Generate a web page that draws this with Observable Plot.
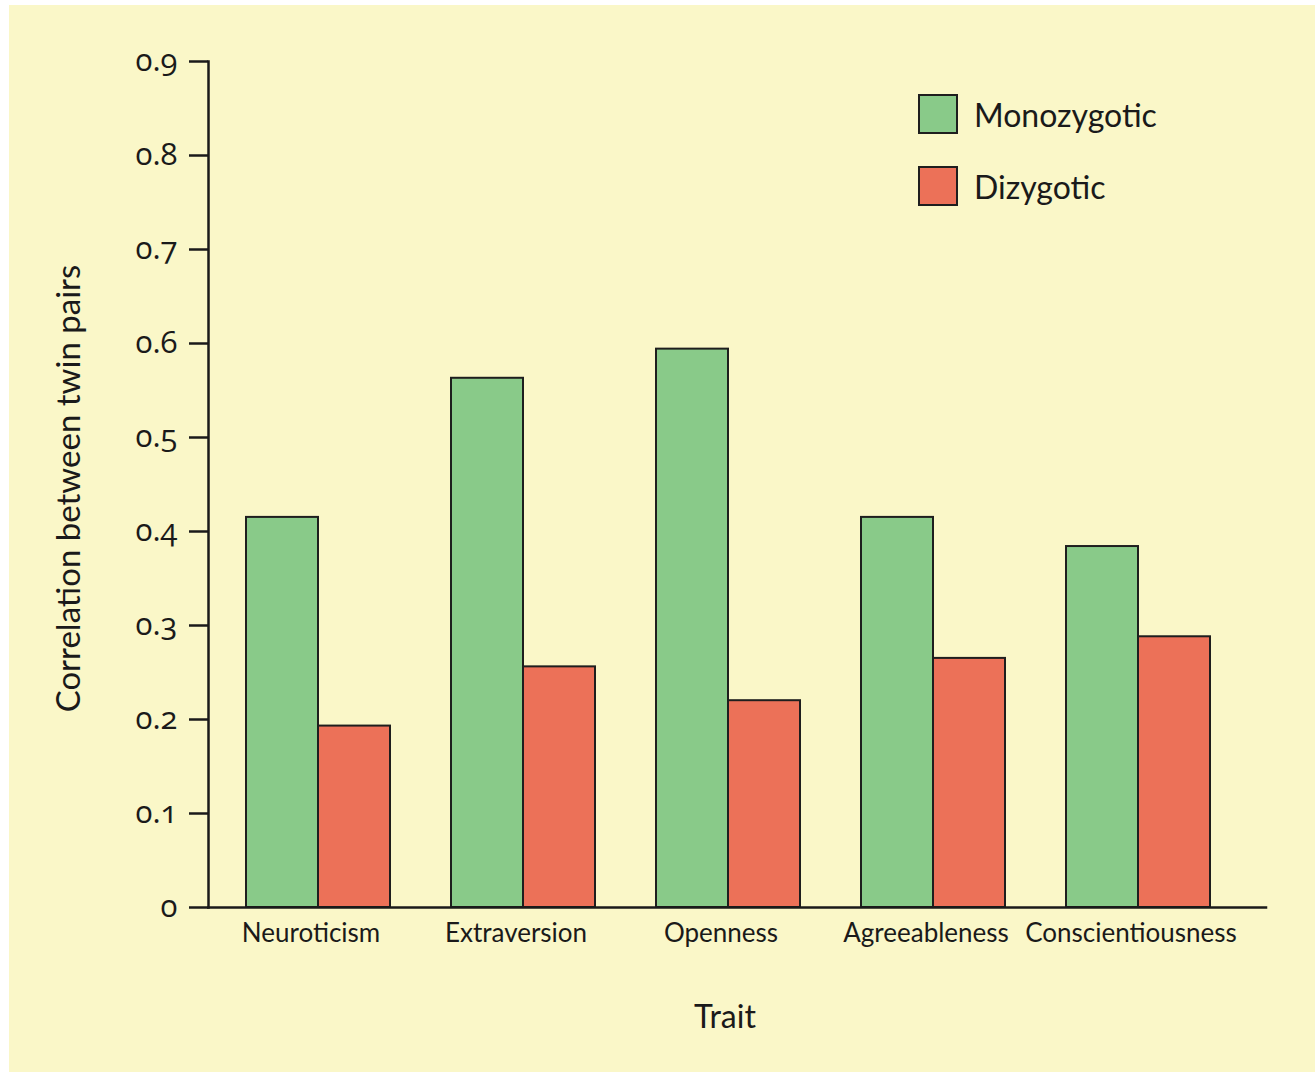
<!DOCTYPE html>
<html>
<head>
<meta charset="utf-8">
<script src="https://cdn.jsdelivr.net/npm/d3@7"></script>
<script src="https://cdn.jsdelivr.net/npm/@observablehq/plot@0.6"></script>
<style>
  html, body { margin: 0; padding: 0; background: #ffffff; }
  #wrap { position: relative; margin-left: 9px; margin-top: 5px; width: 1306px; height: 1067px; background: #faf7c8; overflow: hidden; }
  #wrap svg.plot { background: transparent; }
  #legend { position: absolute; left: 909px; top: 89px; }
  .lg-swatches { font-family: Lato, "Open Sans", sans-serif !important; font-size: 32px !important; color: #1a1a1a; margin: 0 !important; }
  .lg-swatch { display: flex !important; align-items: center; margin: 0 0 32px 0 !important; padding: 0 !important; }
  .lg-swatch svg { margin-right: 16px !important; overflow: visible; }
  .lg-swatch rect { stroke: #1e1e1e; stroke-width: 2px; x: 1px; y: 1px; width: 38px; height: 38px; }
</style>
</head>
<body>
<div id="wrap"></div>
<script>
// ---- data ----
const traits = ["Neuroticism", "Extraversion", "Openness", "Agreeableness", "Conscientiousness"];
const series = ["Monozygotic", "Dizygotic"];
const monozygotic = [0.415, 0.563, 0.594, 0.415, 0.384];
const dizygotic = [0.193, 0.256, 0.220, 0.265, 0.288];
const yTicks = [0, 0.1, 0.2, 0.3, 0.4, 0.5, 0.6, 0.7, 0.8, 0.9];
const colors = ["#89ca89", "#ec7158"];
const yLabel = "Correlation between twin pairs";
const xLabel = "Trait";

const rows = [];
traits.forEach((t, i) => {
  rows.push({trait: t, type: series[0], value: monozygotic[i]});
  rows.push({trait: t, type: series[1], value: dizygotic[i]});
});

const font = "Lato, 'Open Sans', sans-serif";
const ink = "#1a1a1a";

const chart = Plot.plot({
  width: 1306,
  height: 1067,
  marginLeft: 197,
  marginRight: 80.5,
  marginTop: 56,
  marginBottom: 165,
  style: {background: "transparent", fontFamily: font, color: ink},
  fx: {domain: traits, paddingInner: 0, paddingOuter: 0, label: null},
  x: {domain: series, paddingInner: 0, paddingOuter: 0.4187, align: 0.63, axis: null},
  y: {domain: [0, 0.9], label: null, axis: null},
  color: {domain: series, range: colors},
  marks: [
    Plot.barY(rows, {fx: "trait", x: "type", y: "value", fill: "type", stroke: "#1e1e1e", strokeWidth: 2}),
    Plot.frame({anchor: "left", facet: "super", stroke: ink, strokeWidth: 2.5}),
    Plot.frame({anchor: "bottom", facet: "super", insetRight: -32.5, stroke: ink, strokeWidth: 2.5}),
    Plot.axisY({ticks: yTicks, tickSize: 19, tickPadding: 12, fontSize: 31, stroke: ink, strokeWidth: 2.5,
                fontFamily: "'Open Sans', Lato, sans-serif",
                tickFormat: d => d === 0 ? "0" : d3.format(".1f")(d), label: null}),
    Plot.axisFx({anchor: "bottom", tickSize: 0, tickPadding: 16, fontSize: 26, label: null}),
    Plot.text([yLabel], {facet: "super", frameAnchor: "left", textAnchor: "middle", rotate: -90, dx: -139, dy: 4, fontSize: 33, fill: ink}),
    Plot.text([xLabel], {facet: "super", frameAnchor: "bottom", dy: 120, dx: 4, fontSize: 32, fill: ink})
  ]
});

// old-style figures for the numeric tick labels
chart.querySelectorAll("text").forEach(t => {
  t.style.fontVariantNumeric = "oldstyle-nums";
  t.style.fontFeatureSettings = "'onum' 1";
});

const wrap = document.getElementById("wrap");
wrap.appendChild(chart);

const legend = chart.legend("color", {legend: "swatches", columns: 1, swatchSize: 40, className: "lg"});
const lg = document.createElement("div");
lg.id = "legend";
lg.appendChild(legend);
wrap.appendChild(lg);
</script>
</body>
</html>
